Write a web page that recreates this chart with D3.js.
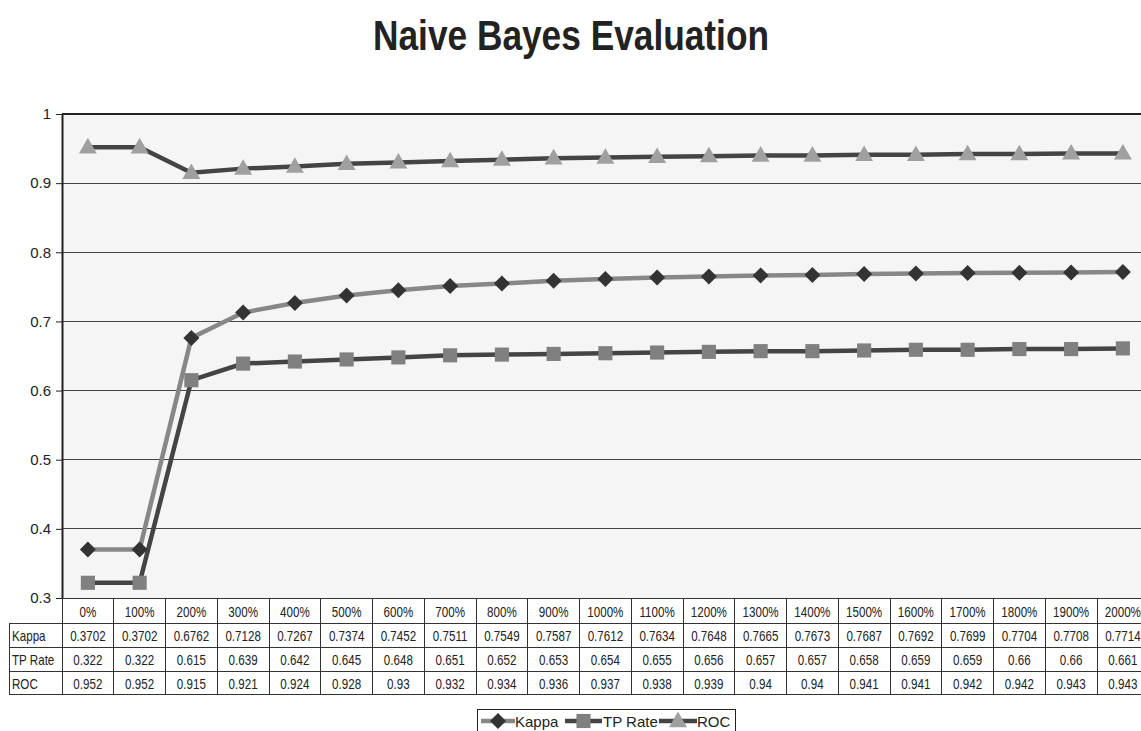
<!DOCTYPE html>
<html><head><meta charset="utf-8">
<script src="https://cdn.jsdelivr.net/npm/d3@7"></script>
<style>body{margin:0;background:#fff}svg{display:block;font-family:"Liberation Sans",Arial,sans-serif}</style>
</head><body>
<svg id="c" width="1141" height="731"></svg>
<script>
const categories = ["0%","100%","200%","300%","400%","500%","600%","700%","800%","900%","1000%","1100%","1200%","1300%","1400%","1500%","1600%","1700%","1800%","1900%","2000%"];
const kappa = [0.3702,0.3702,0.6762,0.7128,0.7267,0.7374,0.7452,0.7511,0.7549,0.7587,0.7612,0.7634,0.7648,0.7665,0.7673,0.7687,0.7692,0.7699,0.7704,0.7708,0.7714];
const tpRate = [0.322,0.322,0.615,0.639,0.642,0.645,0.648,0.651,0.652,0.653,0.654,0.655,0.656,0.657,0.657,0.658,0.659,0.659,0.66,0.66,0.661];
const roc = [0.952,0.952,0.915,0.921,0.924,0.928,0.93,0.932,0.934,0.936,0.937,0.938,0.939,0.94,0.94,0.941,0.941,0.942,0.942,0.943,0.943];
const yTicks = [0.3,0.4,0.5,0.6,0.7,0.8,0.9,1];

const series = [
  {name:"Kappa", values:kappa, line:"#878787", mark:"#333333", shape:"diamond"},
  {name:"TP Rate", values:tpRate, line:"#444444", mark:"#808080", shape:"square"},
  {name:"ROC", values:roc, line:"#444444", mark:"#a0a0a0", shape:"triangle"}
];

const svg = d3.select("#c");
const L = 62, T = 114, B = 598, colW = 51.75;
const x = d3.scaleBand().domain(categories).range([L, L + colW*categories.length]);
const y = d3.scaleLinear().domain([0.3,1]).range([B, T]);
const R = x.range()[1];

svg.append("text").attr("x",373).attr("y",50)
  .attr("font-size",43).attr("font-weight","bold").attr("fill","#222")
  .attr("textLength",396).attr("lengthAdjust","spacingAndGlyphs").text("Naive Bayes Evaluation");

svg.append("rect").attr("x",L).attr("y",T).attr("width",R-L).attr("height",B-T).attr("fill","#f5f5f5");
svg.append("g").selectAll("line").data(yTicks.filter(d=>d>0.3)).join("line")
  .attr("x1",L).attr("x2",R).attr("y1",d=>y(d)).attr("y2",d=>y(d))
  .attr("stroke",d=>d===1?"#222":"#444").attr("stroke-width",d=>d===1?2:1).attr("shape-rendering","crispEdges");

const yAxis = d3.axisLeft(y).tickValues(yTicks).tickFormat(d3.format("")).tickSize(6).tickSizeOuter(0);
const ga = svg.append("g").attr("transform",`translate(${L},0)`).call(yAxis);
ga.select(".domain").attr("stroke","#222").attr("stroke-width",2);
ga.selectAll(".tick line").attr("stroke","#222");
ga.selectAll(".tick text").attr("font-size",15).attr("fill","#222").attr("font-family","Liberation Sans, Arial, sans-serif").attr("x",-11);

const cx = d => x(d) + x.bandwidth()/2;
const diamondType = { draw(ctx, size){ const r=Math.sqrt(size/2); ctx.moveTo(0,-r); ctx.lineTo(r,0); ctx.lineTo(0,r); ctx.lineTo(-r,0); ctx.closePath(); } };
const sym = {
  diamond: d3.symbol().type(diamondType).size(128),
  square: d3.symbol().type(d3.symbolSquare).size(200),
  triangle: d3.symbol().type(d3.symbolTriangle).size(140)
};
const line = d3.line().x((d,i)=>cx(categories[i])).y(d=>y(d));
series.forEach(s=>{
  svg.append("path").attr("d",line(s.values)).attr("fill","none").attr("stroke",s.line).attr("stroke-width",4.5);
});
series.forEach(s=>{
  svg.append("g").selectAll("path").data(s.values).join("path")
    .attr("transform",(d,i)=>`translate(${cx(categories[i])},${y(d)+(s.shape==="triangle"?1:0)})`)
    .attr("d",sym[s.shape]()).attr("fill",s.mark);
});

// data table
const rowH = [598,623,647,671,694];
const tL = 9;
const tg = svg.append("g").attr("font-size",14.5).attr("fill","#222");
const stroke = "#333";
function hl(x1,x2,yy){tg.append("line").attr("x1",x1).attr("x2",x2).attr("y1",yy).attr("y2",yy).attr("stroke",stroke).attr("shape-rendering","crispEdges");}
function vl(xx,y1,y2){tg.append("line").attr("x1",xx).attr("x2",xx).attr("y1",y1).attr("y2",y2).attr("stroke",stroke).attr("shape-rendering","crispEdges");}
function cell(xx,yy,txt,anchor){
  tg.append("text").attr("transform",`translate(${xx},${yy}) scale(0.8,1)`).attr("text-anchor",anchor).text(txt);
}
hl(L,R,rowH[0]+0.5);
for(let r=1;r<rowH.length;r++) hl(tL,R,rowH[r]);
vl(tL,rowH[1],rowH[4]);
vl(L,rowH[0],rowH[4]);
categories.forEach(c=>vl(x(c)+colW,rowH[0],rowH[4]));
categories.forEach(c=>cell(cx(c),617,c,"middle"));
series.forEach((s,r)=>{
  const yy=(rowH[r+1]+rowH[r+2])/2+6;
  cell(tL+3,yy,s.name,"start");
  s.values.forEach((v,i)=>cell(cx(categories[i]),yy,v,"middle"));
});

// legend
const lg = svg.append("g");
lg.append("rect").attr("x",477.5).attr("y",709.5).attr("width",258).attr("height",30).attr("fill","#fff").attr("stroke","#222");
const items = [{x1:481,x2:515,tx:515},{x1:565,x2:602,tx:603},{x1:659,x2:697,tx:697}];
series.forEach((s,i)=>{
  const it=items[i], ly=721;
  lg.append("line").attr("x1",it.x1).attr("x2",it.x2).attr("y1",ly).attr("y2",ly).attr("stroke",s.line).attr("stroke-width",4.5);
  lg.append("path").attr("transform",`translate(${(it.x1+it.x2)/2},${ly+(s.shape==="triangle"?1:0)})`).attr("d",sym[s.shape]()).attr("fill",s.mark);
  lg.append("text").attr("x",it.tx).attr("y",727).attr("font-size",15).attr("fill","#222").text(s.name);
});
</script>
</body></html>
